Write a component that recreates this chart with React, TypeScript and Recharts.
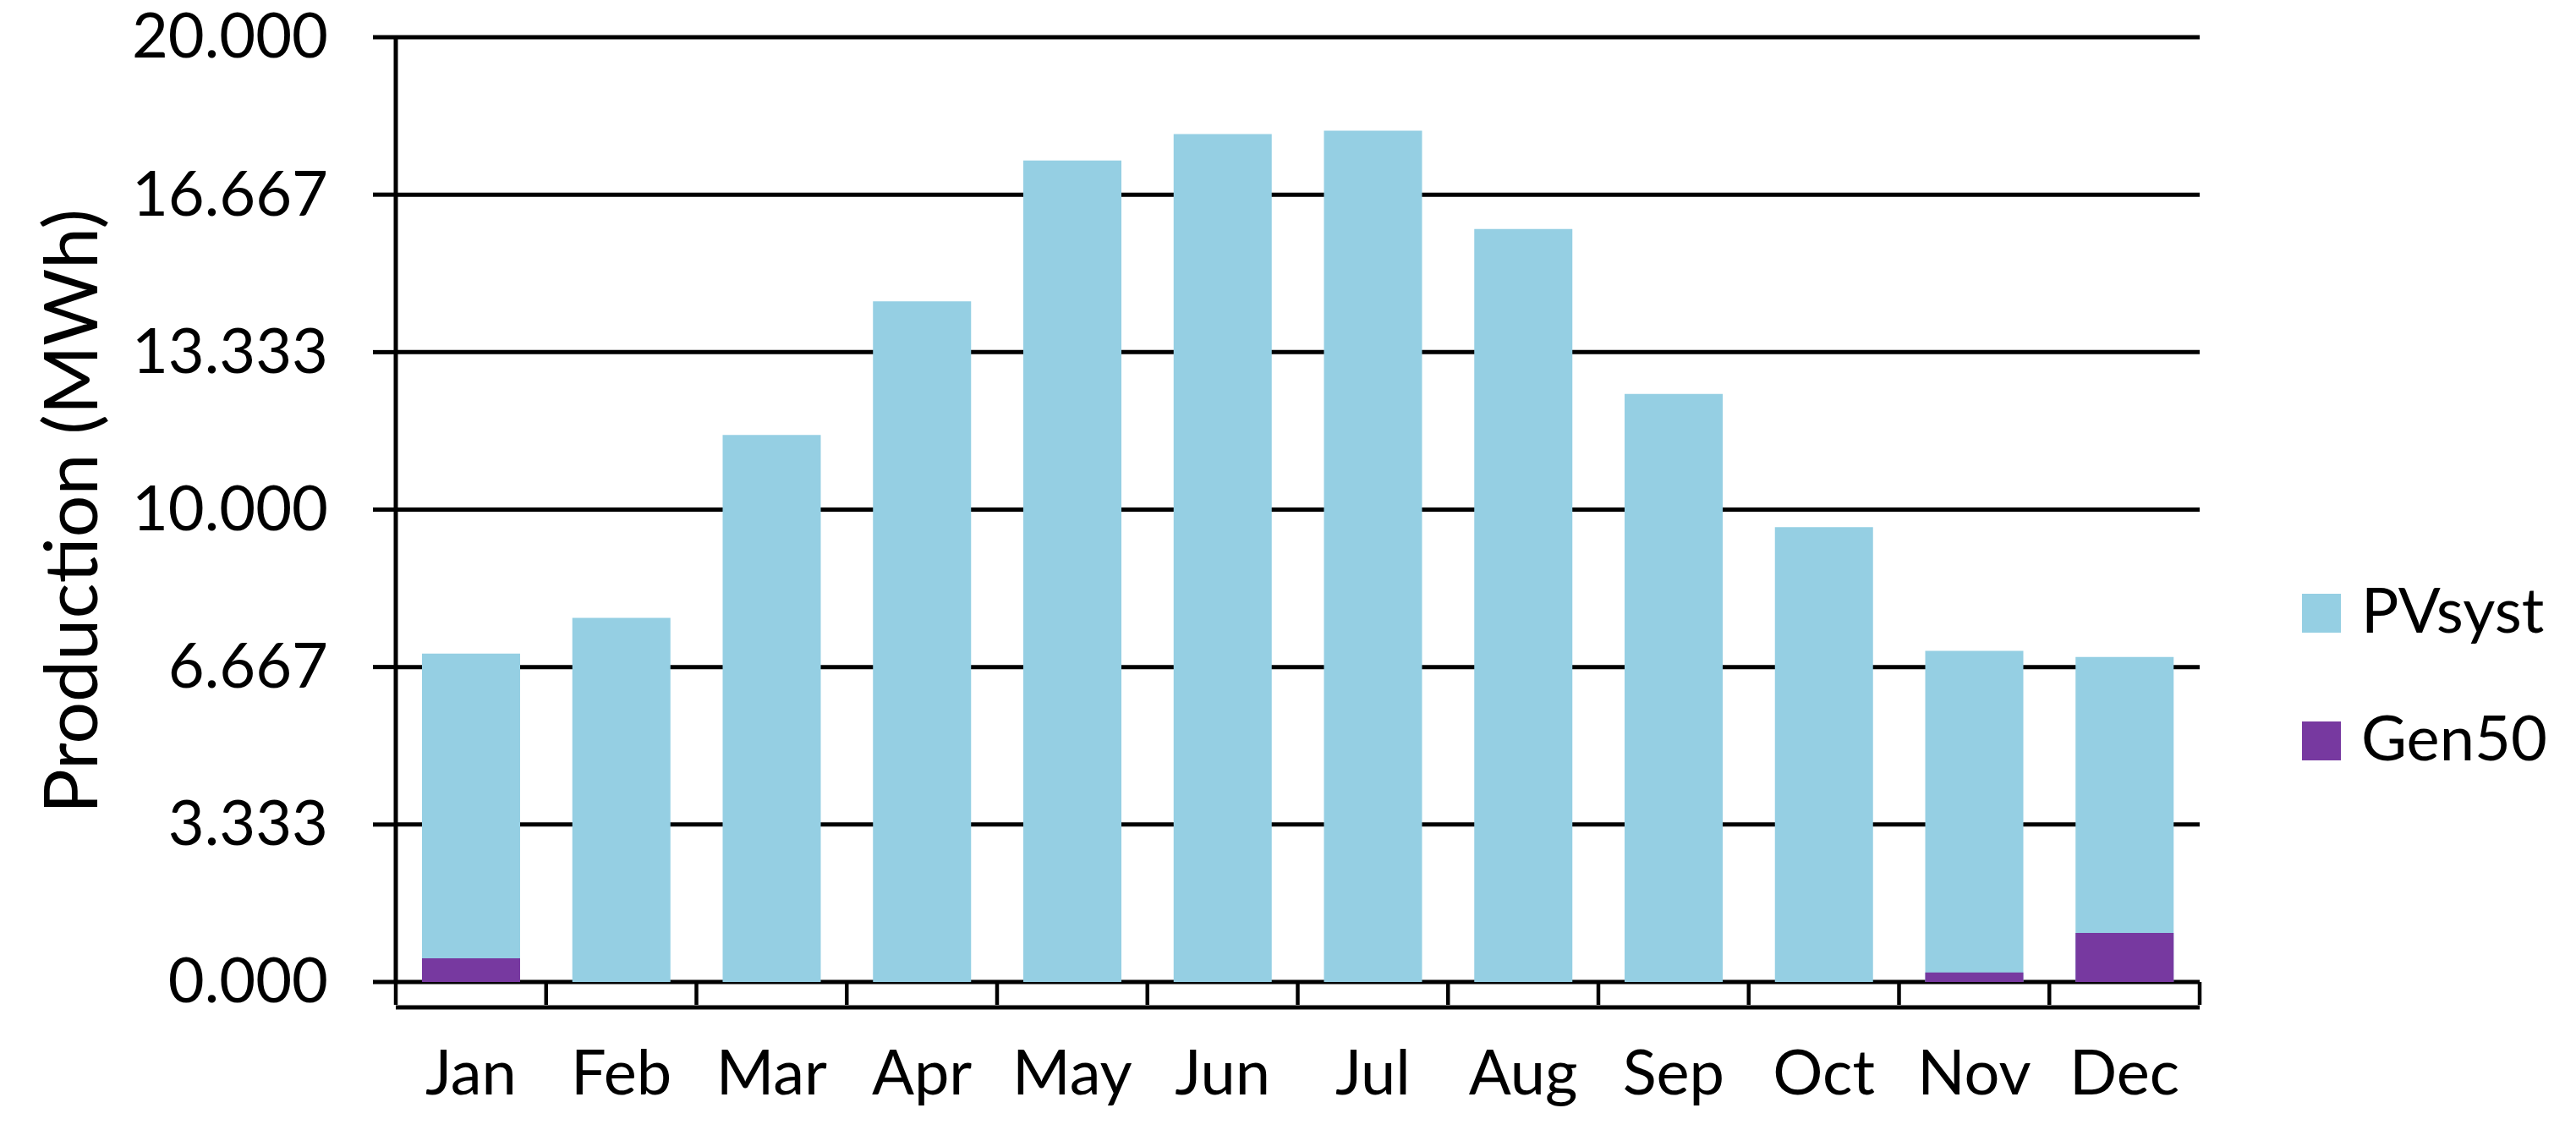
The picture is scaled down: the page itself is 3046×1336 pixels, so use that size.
import { BarChart, Bar, XAxis, YAxis, CartesianGrid, Legend, Label } from 'recharts'

const months = ['Jan', 'Feb', 'Mar', 'Apr', 'May', 'Jun', 'Jul', 'Aug', 'Sep', 'Oct', 'Nov', 'Dec']
const pvsyst = [6.95, 7.71, 11.58, 14.41, 17.39, 17.95, 18.02, 15.94, 12.45, 9.63, 7.01, 6.88]
const gen50 = [0.5, 0, 0, 0, 0, 0, 0, 0, 0, 0, 0.2, 1.04]
const yTicks = [0, 3.333, 6.667, 10, 13.333, 16.667, 20]
const seriesOrder = ['PVsyst', 'Gen50']

const data = months.map((m, i) => ({ month: m, PVsyst: pvsyst[i], Gen50: gen50[i] }))

const W = 3046
const H = 1336
const MARGIN = { top: 44, right: 445, bottom: 0, left: 0 }
const Y_AXIS_W = 468
const X_AXIS_H = 175
const PLOT_H = H - MARGIN.top - X_AXIS_H
const BASE_Y = MARGIN.top + PLOT_H
const BAND = (W - Y_AXIS_W - MARGIN.right) / months.length
const FONT = 'Lato, "Open Sans", sans-serif'
const TICK_FS = 74
const BLUE = '#95CFE3'
const PURPLE = '#7739A0'

// month label + tick marks on the band edges (Excel style)
function MonthTick({ x, payload, index }: any) {
  const half = BAND / 2
  return (
    <g>
      <line x1={x - half} x2={x - half} y1={BASE_Y} y2={BASE_Y + 27} stroke="#000" strokeWidth={4.5} />
      {index === months.length - 1 && (
        <line x1={x + half} x2={x + half} y1={BASE_Y} y2={BASE_Y + 27} stroke="#000" strokeWidth={4.5} />
      )}
      <text x={x} y={BASE_Y + 133} textAnchor="middle" fontSize={TICK_FS} fontFamily={FONT} fill="#000">
        {payload.value}
      </text>
    </g>
  )
}

function ValueTick({ y, payload }: any) {
  return (
    <text x={388} y={y} dy="0.33em" textAnchor="end" fontSize={TICK_FS} fontFamily={FONT} fill="#000">
      {Number(payload.value).toFixed(3)}
    </text>
  )
}

function LegendBox({ payload }: any) {
  const items = [...(payload || [])].sort(
    (a: any, b: any) => seriesOrder.indexOf(a.value) - seriesOrder.indexOf(b.value)
  )
  return (
    <svg width={324} height={300} style={{ overflow: 'visible', display: 'block' }}>
      {items.map((it: any, i: number) => (
        <g key={it.value} transform={`translate(0, ${i * 151})`}>
          <rect x={0} y={52} width={46} height={46} fill={it.color} />
          <text x={70} y={98} fontSize={TICK_FS} fontFamily={FONT} fill="#000">
            {it.value}
          </text>
        </g>
      ))}
    </svg>
  )
}

export default function App() {
  return (
    <div style={{ position: 'absolute', left: 0, top: 0, width: W, height: H, background: '#fff' }}>
      <BarChart width={W} height={H} data={data} margin={MARGIN}>
        <CartesianGrid vertical={false} stroke="#000" strokeWidth={5} />
        <XAxis
          xAxisId="pv"
          dataKey="month"
          height={X_AXIS_H}
          interval={0}
          tickSize={0}
          tickMargin={0}
          tickLine={false}
          axisLine={{ stroke: '#000', strokeWidth: 5 }}
          tick={<MonthTick />}
        />
        <XAxis xAxisId="gen" dataKey="month" hide />
        <YAxis
          domain={[0, 20]}
          ticks={yTicks}
          interval={0}
          width={Y_AXIS_W}
          tickSize={27}
          tickMargin={53}
          axisLine={{ stroke: '#000', strokeWidth: 5 }}
          tickLine={{ stroke: '#000', strokeWidth: 5 }}
          tick={<ValueTick />}
        >
          <Label
            content={() => (
              <text
                transform={`translate(115, ${MARGIN.top + PLOT_H / 2 + 2}) rotate(-90)`}
                textAnchor="middle"
                fontSize={88}
                fontFamily={FONT}
                fill="#000"
              >
                Production (MWh)
              </text>
            )}
          />
        </YAxis>
        <Legend
          layout="vertical"
          align="center"
          verticalAlign="middle"
          wrapperStyle={{ left: 2722, top: 650, width: 324, height: 300 }}
          content={<LegendBox />}
        />
        <Bar xAxisId="pv" dataKey="PVsyst" name="PVsyst" fill={BLUE} barSize={116} isAnimationActive={false} />
        <Bar xAxisId="gen" dataKey="Gen50" name="Gen50" fill={PURPLE} barSize={116} isAnimationActive={false} />
      </BarChart>
    </div>
  )
}
